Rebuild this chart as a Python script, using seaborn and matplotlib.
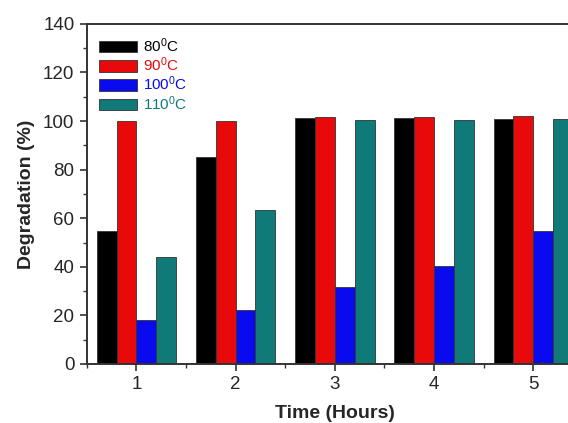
import matplotlib
matplotlib.use("Agg")
import matplotlib.pyplot as plt
import seaborn as sns
import pandas as pd
from matplotlib.ticker import MultipleLocator

times = ["1", "2", "3", "4", "5"]
temps = ["80$^0$C", "90$^0$C", "100$^0$C", "110$^0$C"]
deg_80 = [54.8, 85.3, 101.3, 101.2, 100.9]
deg_90 = [100.2, 99.9, 101.8, 101.5, 102.0]
deg_100 = [18.2, 22.1, 31.5, 40.4, 54.7]
deg_110 = [44.1, 63.2, 100.6, 100.6, 100.9]
colors = ["#000000", "#e80a0a", "#0a0aee", "#0f7a78"]

series = [deg_80, deg_90, deg_100, deg_110]
rows = []
for temp, vals in zip(temps, series):
    for t, v in zip(times, vals):
        rows.append({"Time": t, "Degradation": v, "Temp": temp})
df = pd.DataFrame(rows)

sns.set_style("white")
plt.rcParams["font.family"] = ["Liberation Sans", "DejaVu Sans"]
plt.rcParams["mathtext.default"] = "regular"

fig = plt.figure(figsize=(5.68, 4.23), dpi=100)
ax = fig.add_axes([0.153, 0.1395, 0.873, 0.804])

sns.barplot(data=df, x="Time", y="Degradation", hue="Temp", order=times,
            hue_order=temps, palette=colors, saturation=1, width=0.8,
            edgecolor="#333333", linewidth=0.6, ax=ax)

ax.set_xlim(-0.5, 4.5)
ax.set_ylim(0, 140)
ax.yaxis.set_major_locator(MultipleLocator(20))
ax.yaxis.set_minor_locator(MultipleLocator(10))
ax.xaxis.set_minor_locator(MultipleLocator(0.5))
ax.tick_params(axis="both", which="major", direction="out", length=5, width=1.2,
               labelsize=13.5, color="#333333", bottom=True, left=True, pad=4)
ax.tick_params(axis="both", which="minor", direction="out", length=3, width=1.0,
               color="#333333", bottom=True, left=True)
for s in ["left", "bottom", "top", "right"]:
    ax.spines[s].set_linewidth(1.4)
    ax.spines[s].set_color("#333333")

ax.set_xlabel("Time (Hours)", fontsize=14, fontweight="bold", labelpad=8)
ax.set_ylabel("Degradation (%)", fontsize=14, fontweight="bold", labelpad=6)

handles, labels = ax.get_legend_handles_labels()
leg = ax.legend(handles, labels, loc="upper left", bbox_to_anchor=(0.0, 1.0),
                frameon=False, fontsize=11, handlelength=2.5, handleheight=0.8,
                labelspacing=0.05, handletextpad=0.35, borderaxespad=0.5,
                borderpad=0.3)
for txt, c in zip(leg.get_texts(), colors):
    txt.set_color(c)

fig.savefig("out.png", dpi=100)
